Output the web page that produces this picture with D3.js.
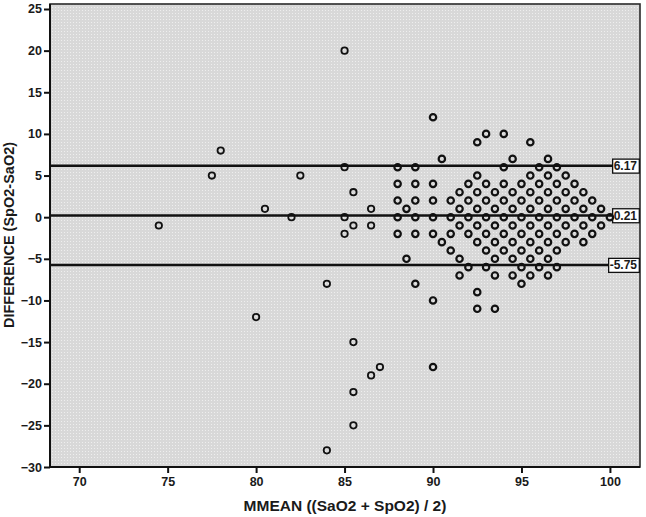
<!DOCTYPE html>
<html lang="en">
<head>
    <meta charset="UTF-8">
    <title>Bland-Altman SpO2 vs SaO2</title>
    <script src="https://d3js.org/d3.v7.min.js"></script>
    <style>
        body{
            margin:0;
            background:#fff;
        }
        svg text{
            font-family: Arial, "Liberation Sans", sans-serif;
            font-weight: bold;
            fill: #1a1a1a;
        }
    </style>
</head>
<body>
<svg id="chart"></svg>
<script>
    // difference levels (SpO2-SaO2) and the means plotted on each level
    var diffLevels = [20, 12, 10, 9, 8, 7, 6, 5, 4, 3, 2, 1, 0, -1, -2, -3, -4, -5, -6, -7, -8, -9, -10, -11, -12, -15, -18, -19, -21, -25, -28];
    var meanByLevel = [
        [85],
        [90],
        [93, 94],
        [92.5, 95.5],
        [78],
        [90.5, 94.5, 96.5],
        [85, 88, 89, 94, 96, 97],
        [77.5, 82.5, 92.5, 95.5, 96.5, 97.5],
        [88, 89, 90, 92, 93, 94, 95, 96, 97, 98],
        [85.5, 91.5, 92.5, 93.5, 94.5, 95.5, 96.5, 97.5, 98.5],
        [88, 89, 90, 91, 92, 93, 94, 95, 96, 97, 98, 99],
        [80.5, 86.5, 88.5, 91.5, 92.5, 93.5, 94.5, 95.5, 96.5, 97.5, 98.5, 99.5],
        [82, 85, 88, 89, 90, 91, 92, 93, 94, 95, 96, 97, 98, 99, 100],
        [74.5, 85.5, 86.5, 91.5, 92.5, 93.5, 94.5, 95.5, 96.5, 97.5, 98.5, 99.5],
        [85, 88, 89, 90, 91, 92, 93, 94, 95, 96, 97, 98, 99],
        [90.5, 92.5, 93.5, 94.5, 95.5, 96.5, 97.5, 98.5],
        [91, 93, 94, 95, 96, 97],
        [88.5, 91.5, 93.5, 94.5, 95.5, 96.5],
        [92, 93, 95, 96, 97],
        [91.5, 93.5, 94.5, 95.5, 96.5],
        [84, 89, 95],
        [92.5],
        [90],
        [92.5, 93.5],
        [80],
        [85.5],
        [87, 90],
        [86.5],
        [85.5],
        [85.5],
        [84]
    ];

    // mean difference and limits of agreement
    var limitValues = [6.17, 0.21, -5.75];
    var limitLabels = ["6.17", "0.21", "-5.75"];

    var xTicks = [70, 75, 80, 85, 90, 95, 100];
    var yTicks = [-30, -25, -20, -15, -10, -5, 0, 5, 10, 15, 20, 25];

    var xTitle = "MMEAN ((SaO2 + SpO2) / 2)";
    var yTitle = "DIFFERENCE (SpO2-SaO2)";

    var points = [];
    diffLevels.forEach(function(d, i){
        meanByLevel[i].forEach(function(m){
            points.push({mean: m, diff: d});
        });
    });

    var width = 646, height = 517;
    var margin = {top: 4, right: 6, bottom: 50, left: 50};

    var svg = d3.select("#chart")
        .attr("width", width)
        .attr("height", height);

    var x = d3.scaleLinear().domain([68.35, 101.7]).range([margin.left, width - margin.right]);
    var y = d3.scaleLinear().domain([-30, 25.6]).range([height - margin.bottom, margin.top]);

    // dotted grey plot background
    var defs = svg.append("defs");
    var pat = defs.append("pattern")
        .attr("id", "dots")
        .attr("width", 3)
        .attr("height", 3)
        .attr("patternUnits", "userSpaceOnUse");
    pat.append("rect").attr("width", 3).attr("height", 3).attr("fill", "#d8d8d8");
    pat.append("rect").attr("x", 1).attr("y", 1).attr("width", 1).attr("height", 1).attr("fill", "#eeeeee");

    svg.append("rect")
        .attr("x", x.range()[0])
        .attr("y", y.range()[1])
        .attr("width", x.range()[1] - x.range()[0])
        .attr("height", y.range()[0] - y.range()[1])
        .attr("fill", "url(#dots)")
        .attr("stroke", "#2a2a2a")
        .attr("stroke-width", 1.6);

    // reference lines with boxed labels
    var lim = svg.append("g").selectAll("g")
        .data(limitValues)
        .enter()
        .append("g");

    lim.append("line")
        .attr("x1", x.range()[0])
        .attr("x2", x.range()[1] - 20)
        .attr("y1", function(d){ return y(d); })
        .attr("y2", function(d){ return y(d); })
        .attr("stroke", "#111")
        .attr("stroke-width", 2.4);

    var labelText = lim.append("text")
        .attr("x", x.range()[1] - 3)
        .attr("y", function(d){ return y(d); })
        .attr("dy", "0.36em")
        .attr("text-anchor", "end")
        .style("font-size", "12px")
        .text(function(d, i){ return limitLabels[i]; });

    labelText.each(function(){
        var bb = this.getBBox();
        d3.select(this.parentNode).insert("rect", "text")
            .attr("x", bb.x - 1)
            .attr("y", bb.y)
            .attr("width", bb.width + 3)
            .attr("height", bb.height)
            .attr("fill", "#fff")
            .attr("stroke", "#111")
            .attr("stroke-width", 1.3);
    });

    // scatter points
    svg.append("g").selectAll("circle")
        .data(points)
        .enter()
        .append("circle")
        .attr("cx", function(d){ return x(d.mean); })
        .attr("cy", function(d){ return y(d.diff); })
        .attr("r", 3.2)
        .attr("fill", "none")
        .attr("stroke", "#111")
        .attr("stroke-width", function(d){ return d.mean >= 88 ? 2.2 : 1.8; });

    // axes
    var xAxis = svg.append("g")
        .attr("transform", "translate(0," + y.range()[0] + ")")
        .call(d3.axisBottom(x).tickValues(xTicks).tickSize(6).tickPadding(4));
    var yAxis = svg.append("g")
        .attr("transform", "translate(" + x.range()[0] + ",0)")
        .call(d3.axisLeft(y).tickValues(yTicks).tickSize(6).tickPadding(2));

    [xAxis, yAxis].forEach(function(ax){
        ax.select(".domain").attr("stroke", "#111").attr("stroke-width", 2);
        ax.selectAll(".tick line").attr("stroke", "#111").attr("stroke-width", 2);
        ax.selectAll(".tick text")
            .style("font-size", "12.5px")
            .style("font-family", "Arial, 'Liberation Sans', sans-serif")
            .style("font-weight", "bold")
            .attr("fill", "#1a1a1a");
    });
    xAxis.select(".domain").attr("d", "M" + x.range()[0] + ",0H" + x.range()[1]);
    yAxis.select(".domain").attr("d", "M0," + y.range()[0] + "V" + y.range()[1]);

    svg.append("text")
        .attr("x", 345)
        .attr("y", 511)
        .attr("text-anchor", "middle")
        .style("font-size", "15.5px")
        .text(xTitle);

    svg.append("text")
        .attr("transform", "translate(14,235) rotate(-90)")
        .attr("text-anchor", "middle")
        .style("font-size", "14.5px")
        .text(yTitle);
</script>
</body>
</html>
